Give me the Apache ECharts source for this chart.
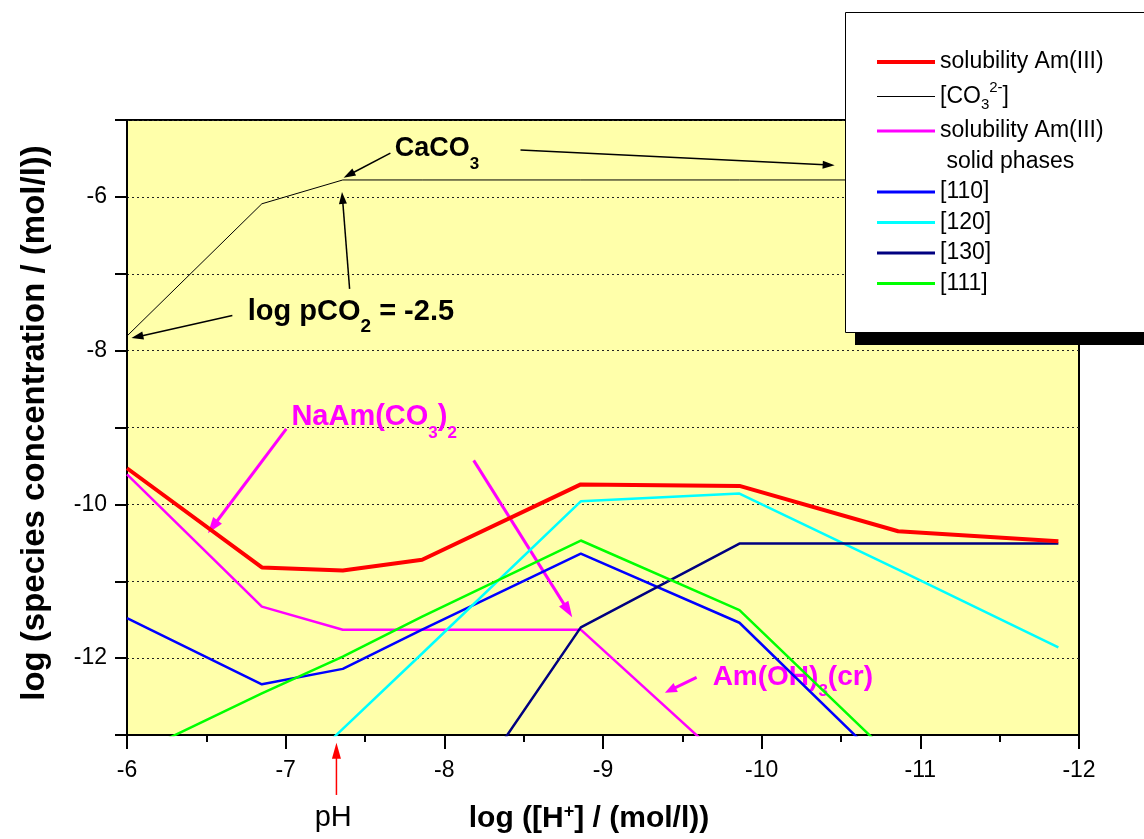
<!DOCTYPE html>
<html><head><meta charset="utf-8">
<script src="https://cdn.jsdelivr.net/npm/echarts@6/dist/echarts.min.js"></script>
<style>html,body{margin:0;padding:0;background:#fff}#c{width:1144px;height:839px}</style>
</head><body><div id="c"></div>
<script>
// ---- data ----
const logH = [-6, -6.85, -7.36, -7.86, -8.86, -9.86, -10.86, -11.87];
const solubilityAm = [-9.53, -10.82, -10.86, -10.72, -9.74, -9.76, -10.35, -10.48];
const carbonate = [-7.81, -6.09, -5.78, -5.78, -5.78, -5.78, -5.78, -5.78];
const solubilitySolid = [-9.61, -11.33, -11.63, -11.63, -11.63, -13.51, null, null];
const c110 = [-11.48, -12.34, -12.14, -11.63, -10.64, -11.54, -13.55, null];
const c120 = [null, -13.92, -12.92, -11.94, -9.96, -9.86, -10.85, -11.86];
const c130 = [null, null, null, -14.62, -11.60, -10.51, -10.51, -10.51];
const c111 = [-13.30, -12.46, -11.98, -11.46, -10.47, -11.375, -13.36, null];
const yRange = [-13, -5];
const xRange = [-12, -6];

// annotation arrows: [tail, head] in data coordinates
const blackArrows = [
  [[-7.66, -5.43], [-7.365, -5.75]],
  [[-8.48, -5.39], [-10.46, -5.59]],
  [[-6.664, -7.543], [-6.028, -7.837]],
  [[-7.403, -7.197], [-7.355, -5.935]]
];
const magentaArrows = [
  [[-7.004, -9.017], [-6.51, -10.375]],
  [[-8.185, -9.428], [-8.806, -11.468]]
];
const magentaShortArrow = [[-9.59, -12.25], [-9.39, -12.45]];
const phArrow = [[-7.32, -13.78], [-7.32, -13.10]];
// annotation text anchors (left x, middle y) in data coordinates
const caco3Pos = [-7.687, -5.37];
const pco2Pos = [-6.761, -7.502];
const naAmPos = [-7.036, -8.865];
const amOHPos = [-9.691, -12.246];
const phPos = [-7.30, -14.08];

const FONT = "'Liberation Sans', Arial, sans-serif";

function pairs(vals) {
  const out = [];
  logH.forEach((x, i) => { if (vals[i] !== null) out.push([x, vals[i]]); });
  return out;
}
function lineSeries(name, vals, color, width, z) {
  return { name, type: 'line', data: pairs(vals), symbol: 'none', showSymbol: false,
    lineStyle: { color, width }, itemStyle: { color }, z, clip: true, silent: true, animation: false };
}

const legendText = {
  'solubility Am(III)': 'solubility Am(III)',
  '[CO3 2-]': '{m|[CO}{sb|3}{sp|2-}{m|]}',
  'solubility Am(III) solid phases': 'solubility Am(III)',
  'solid phases': ' solid phases',
  '[110]': '[110]', '[120]': '[120]', '[130]': '[130]', '[111]': '[111]'
};

const option = {
  animation: false,
  backgroundColor: '#ffffff',
  grid: { left: 127, top: 120, right: 65, bottom: 102, show: true,
    backgroundColor: '#ffffaa', borderColor: '#000', borderWidth: 2 },
  xAxis: {
    type: 'value', min: xRange[0], max: xRange[1], interval: 1, inverse: true,
    axisLine: { lineStyle: { color: '#000', width: 2 } },
    axisTick: { length: 14, lineStyle: { color: '#000', width: 2 } },
    minorTick: { show: true, splitNumber: 2, length: 7, lineStyle: { color: '#000', width: 2 } },
    axisLabel: { margin: 24, fontSize: 23, color: '#000', fontFamily: FONT },
    splitLine: { show: false },
    name: '{m|log ([H}{sp|+}{m|] / (mol/l))}',
    nameLocation: 'middle', nameGap: 68,
    nameTextStyle: {
      padding: [0, 28, 0, 0],
      rich: {
        m: { fontSize: 30, fontWeight: 'bold', fontFamily: FONT, color: '#000', lineHeight: 32 },
        sp: { fontSize: 18, fontWeight: 'bold', fontFamily: FONT, color: '#000', lineHeight: 18, verticalAlign: 'top' }
      }
    }
  },
  yAxis: {
    type: 'value', min: yRange[0], max: yRange[1], interval: 1,
    axisLine: { show: true, lineStyle: { color: '#000', width: 2 } },
    axisTick: { show: true, length: 12, lineStyle: { color: '#000', width: 2 } },
    axisLabel: { margin: 20, fontSize: 23, color: '#000', fontFamily: FONT,
      formatter: v => (Math.round(v) % 2 === 0 ? String(v) : '') },
    splitLine: { show: true, lineStyle: { color: '#222', width: 1, type: [2, 3] } },
    name: 'log (species concentration / (mol/l))',
    nameLocation: 'middle', nameGap: 76,
    nameTextStyle: { fontSize: 33, fontWeight: 'bold', fontFamily: FONT, color: '#000', padding: [0, 0, 0, 9] }
  },
  legend: {
    orient: 'vertical', left: 845, top: 12, itemWidth: 58, itemHeight: 14, itemGap: 6.5,
    padding: [38, 60, 37.5, 30],
    backgroundColor: '#fff', borderWidth: 0,
    shadowColor: '#000', shadowOffsetX: 10, shadowOffsetY: 12, shadowBlur: 0,
    selectedMode: false,
    itemStyle: { opacity: 0 },
    textStyle: { fontSize: 23, color: '#000', fontFamily: FONT, lineHeight: 24,
      rich: {
        m: { fontSize: 23, color: '#000', fontFamily: FONT, lineHeight: 32 },
        sb: { fontSize: 15, color: '#000', fontFamily: FONT, lineHeight: 15, verticalAlign: 'bottom' },
        sp: { fontSize: 15, color: '#000', fontFamily: FONT, lineHeight: 15, verticalAlign: 'top' }
      } },
    formatter: name => legendText[name],
    data: [
      { name: 'solubility Am(III)', lineStyle: { width: 4 } },
      { name: '[CO3 2-]', lineStyle: { width: 1 } },
      { name: 'solubility Am(III) solid phases', lineStyle: { width: 3 } },
      { name: 'solid phases', lineStyle: { opacity: 0 } },
      { name: '[110]', lineStyle: { width: 3 } },
      { name: '[120]', lineStyle: { width: 3 } },
      { name: '[130]', lineStyle: { width: 3 } },
      { name: '[111]', lineStyle: { width: 3 } }
    ]
  },
  series: [
    lineSeries('[CO3 2-]', carbonate, '#000000', 1, 2),
    lineSeries('solubility Am(III) solid phases', solubilitySolid, '#ff00ff', 2.5, 2),
    lineSeries('[110]', c110, '#0000ff', 2.5, 2),
    lineSeries('[120]', c120, '#00ffff', 2.5, 2),
    lineSeries('[130]', c130, '#000080', 2.5, 2),
    lineSeries('[111]', c111, '#00ff00', 2.5, 2),
    lineSeries('solubility Am(III)', solubilityAm, '#ff0000', 4, 3),
    { name: 'solid phases', type: 'line', data: [], symbol: 'none', lineStyle: { opacity: 0 } }
  ]
};

const chart = echarts.init(document.getElementById('c'), null, { renderer: 'canvas' });
chart.setOption(option);

const px = p => chart.convertToPixel({ gridIndex: 0 }, p);

function arrow(seg, color, lw, hl, hw) {
  const a = px(seg[0]), b = px(seg[1]);
  const dx = b[0] - a[0], dy = b[1] - a[1], L = Math.hypot(dx, dy);
  const ux = dx / L, uy = dy / L;
  const bx = b[0] - ux * hl, by = b[1] - uy * hl;
  const nx = -uy * hw / 2, ny = ux * hw / 2;
  return [
    { type: 'line', z: 1, silent: true, shape: { x1: a[0], y1: a[1], x2: bx + ux * 2, y2: by + uy * 2 },
      style: { stroke: color, lineWidth: lw } },
    { type: 'polygon', z: 1, silent: true, shape: { points: [[b[0], b[1]], [bx + nx, by + ny], [bx - nx, by - ny]] },
      style: { fill: color } }
  ];
}
function annRich(color, size, sub, L) {
  return {
    m: { fill: color, fontSize: size, fontWeight: 'bold', fontFamily: FONT, lineHeight: L },
    sb: { fill: color, fontSize: sub, fontWeight: 'bold', fontFamily: FONT, lineHeight: sub, verticalAlign: 'bottom' }
  };
}
function annText(pos, text, rich, align) {
  const p = px(pos);
  return { type: 'text', z: 1, silent: true, x: p[0], y: p[1],
    style: { text, rich, align: align || 'left', verticalAlign: 'middle' } };
}

let els = [];
blackArrows.forEach(s => { els = els.concat(arrow(s, '#000', 1.5, 12, 8)); });
magentaArrows.forEach(s => { els = els.concat(arrow(s, '#ff00ff', 3, 16, 11)); });
els = els.concat(arrow(magentaShortArrow, '#ff00ff', 3, 12, 10));
els = els.concat(arrow(phArrow, '#ff0000', 1.5, 16, 9));
els.push(annText(caco3Pos, '{m|CaCO}{sb|3}', annRich('#000', 27, 17, 48)));
els.push(annText(pco2Pos, '{m|log pCO}{sb|2}{m| = -2.5}', annRich('#000', 29, 19, 48)));
els.push(annText(naAmPos, '{m|NaAm(CO}{sb|3}{m|)}{sb|2}', annRich('#ff00ff', 29, 17, 50)));
els.push(annText(amOHPos, '{m|Am(OH)}{sb|3}{m|(cr)}', annRich('#ff00ff', 28, 17, 46)));
(function () {
  const p = px(phPos);
  els.push({ type: 'text', z: 1, silent: true, x: p[0], y: p[1],
    style: { text: 'pH', fill: '#000', fontSize: 29, fontFamily: FONT, align: 'center', verticalAlign: 'middle' } });
})();
// legend frame (border drawn separately so the box shadow only shows outside)
els.push({ type: 'rect', z: 10, zlevel: 0, silent: true,
  shape: { x: 845.5, y: 12.5, width: 400, height: 320 },
  style: { fill: null, stroke: '#000', lineWidth: 1 } });
chart.setOption({ graphic: { elements: els } });
</script>
</body></html>
